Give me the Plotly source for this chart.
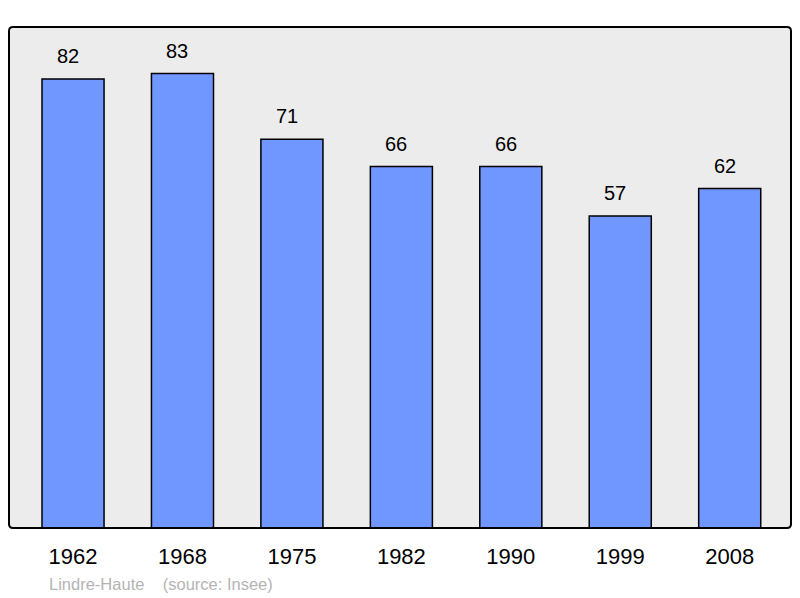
import plotly.graph_objects as go

# population figures
years = ["1962", "1968", "1975", "1982", "1990", "1999", "2008"]
population = [82, 83, 71, 66, 66, 57, 62]
footer = "Lindre-Haute    (source: Insee)"

positions = list(range(len(years)))

W, H = 800, 598
ML, MR, MT, MB = 9, 9, 27, 70
pw, ph = W - ML - MR, H - MT - MB

fig = go.Figure()

fig.add_trace(go.Bar(
    x=positions,
    y=population,
    width=0.567,
    marker=dict(color="#7096ff", line=dict(color="#000000", width=1.5)),
    hoverinfo="skip",
    showlegend=False,
))

# value labels above each bar (sitting a little left of centre, as in the original)
for p, v in zip(positions, population):
    fig.add_annotation(
        x=p, y=v, text=str(v), showarrow=False,
        yanchor="bottom", yshift=10, xshift=-5,
        font=dict(family="Liberation Sans, Arial", size=20, color="#000000"),
    )

fig.add_annotation(
    xref="paper", yref="paper", x=38 / pw, y=-56 / ph,
    xanchor="left", yanchor="middle", showarrow=False,
    text=footer,
    font=dict(family="Liberation Sans, Arial", size=16.5, color="#b4b4b4"),
)

# frame round the plot area, with slightly rounded corners
rx, ry = 4 / pw, 4 / ph
frame = (
    f"M {rx},0 L {1 - rx},0 Q 1,0 1,{ry} L 1,{1 - ry} Q 1,1 {1 - rx},1 "
    f"L {rx},1 Q 0,1 0,{1 - ry} L 0,{ry} Q 0,0 {rx},0 Z"
)
fig.add_shape(
    type="path", xref="paper", yref="paper", path=frame,
    line=dict(color="#000000", width=2), layer="above",
)

fig.update_layout(
    width=W, height=H,
    margin=dict(l=ML, r=MR, t=MT, b=MB),
    paper_bgcolor="#ffffff",
    plot_bgcolor="#ececec",
    font=dict(family="Liberation Sans, Arial", color="#000000"),
    xaxis=dict(
        range=[-0.585, 6.56],
        tickvals=positions, ticktext=years,
        showgrid=False, zeroline=False,
        ticks="outside", ticklen=9, tickcolor="rgba(0,0,0,0)",
        tickfont=dict(size=22),
    ),
    yaxis=dict(range=[0, 91.5], visible=False, showgrid=False),
)

# drop the default body margin so the 800x598 figure fills the window
fig.write_html(
    "out.html",
    config={"displayModeBar": False},
    post_script="document.body.style.margin='0';document.body.style.overflow='hidden';",
)
